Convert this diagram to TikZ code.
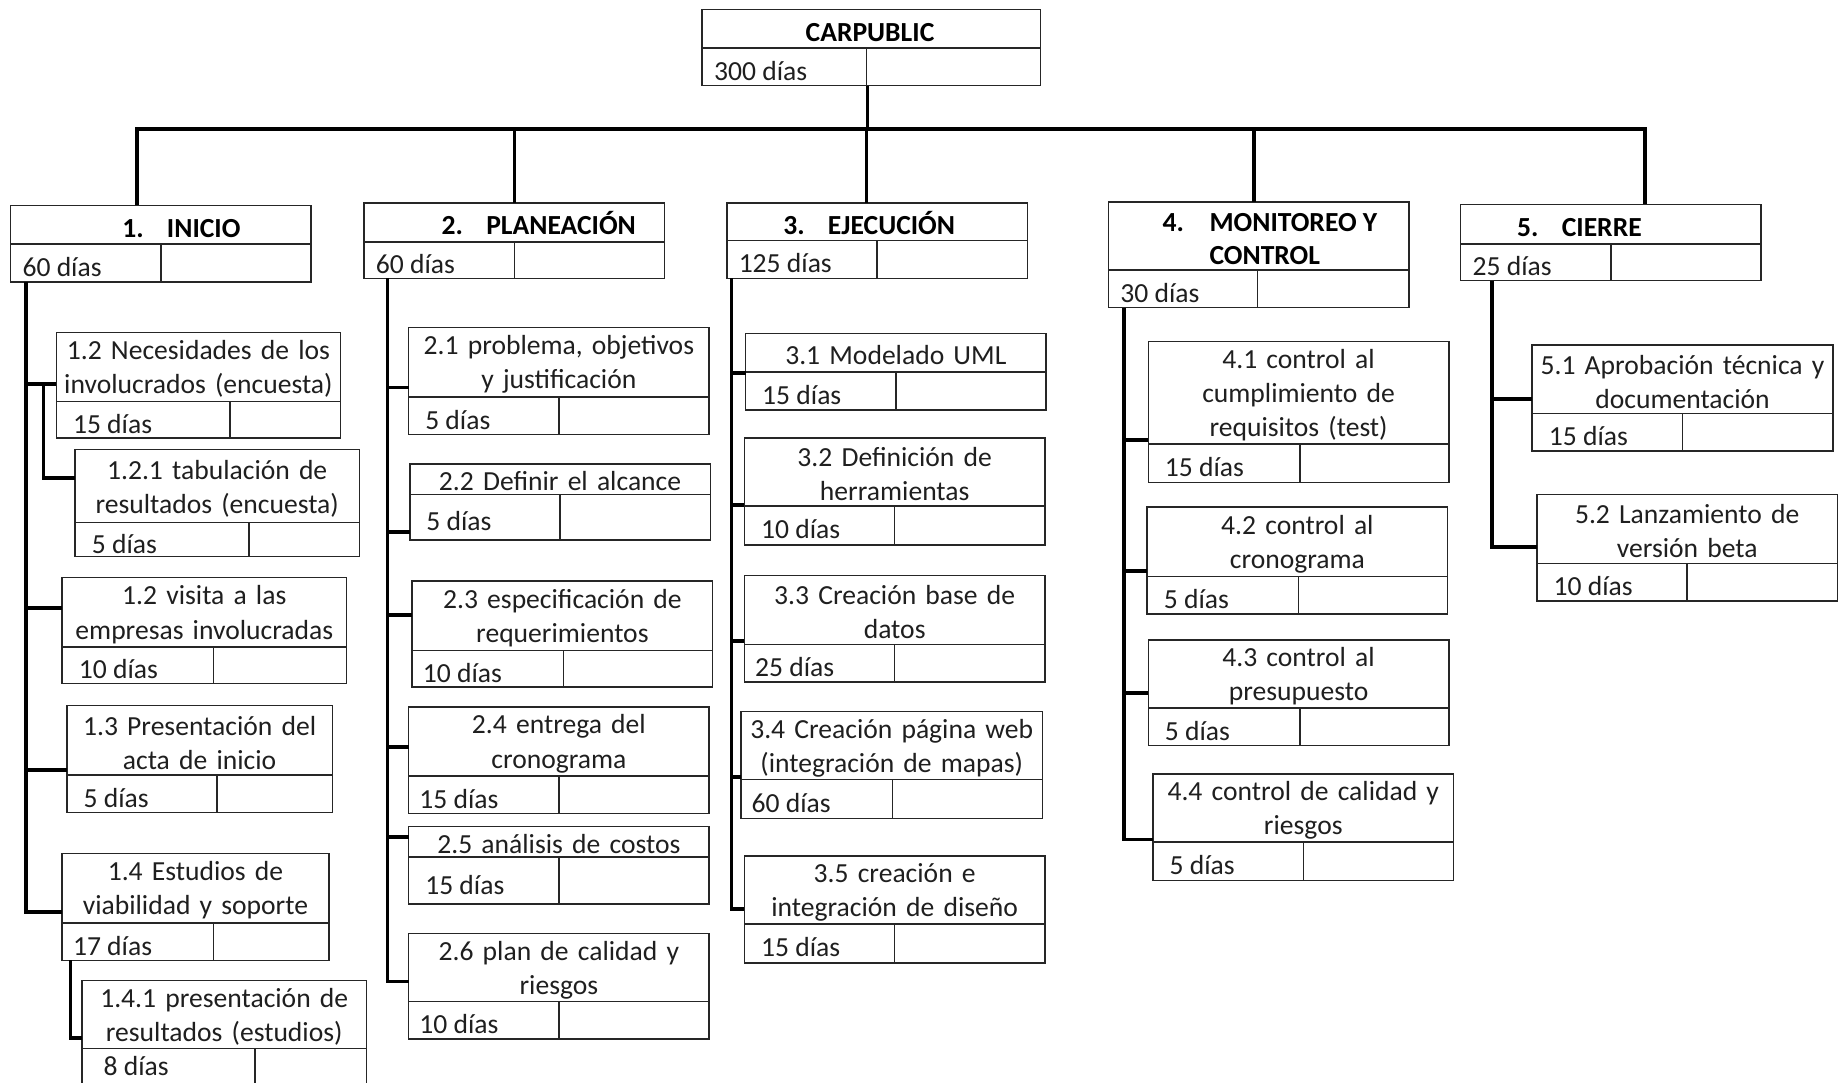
\documentclass[tikz,border=0pt]{standalone}
\usepackage{fontspec}
\setmainfont{Carlito}
\def\dx{10}
\newcommand\wbox[9]{%
  \pgfmathsetmacro\wbW{#4-#2}\pgfmathsetmacro\wbH{#6-#3}%
  \node[box,anchor=north west,minimum width=\wbW pt,minimum height=\wbH pt] (#1) at (#2,#3) {};
  \draw[cell] (#2,#5) -- (#4,#5) (#7,#5) -- (#7,#6);
  \node[title,text width=\wbW pt] (#1-t) at ({(#2+#4)/2},{(#3+#5)/2+2}) {#8};
  \node[days] (#1-d) at ({#2+\dx},{(#5+#6)/2+11.5}) {#9};
}
\newcommand\branch[3]{% spine coordinate, child node, offset from child top
  \path ([yshift=-#3 pt]#2.north west) coordinate (#2-in);
  \draw[conn] (#2-in -| #1) -- (#2-in);
}
\begin{document}
\begin{tikzpicture}[x=1pt,y=-1pt,
  box/.style={draw=black!85,line width=1.3pt,inner sep=0pt,outer sep=0pt,fill=white},
  cell/.style={draw=black!85,line width=1.3pt},
  conn/.style={draw=black,line width=3.2pt},
  drop/.style={draw=black,line width=2.8pt},
  title/.style={align=center,inner sep=0pt,font=\fontsize{23.5}{29}\selectfont,text=black!88},
  days/.style={anchor=base west,inner sep=0pt,font=\fontsize{23.5}{29}\selectfont,text=black!88},
  head/.style={anchor=base west,inner sep=0pt,font=\fontsize{23.5}{29}\selectfont\bfseries}]
\fill[white] (0,0) rectangle (1568,922);
\useasboundingbox (0,0) rectangle (1568,922);

% root
\wbox{root}{598}{8}{886}{41}{73}{738}{}{300 días}
\node[head,anchor=base] (root-h) at (741,35) {CARPUBLIC};

% level 1
\wbox{ini}{9}{175}{265}{208}{240}{137}{}{60 días}
\node[head] (ini-h) at (104,202) {\makebox[38pt][l]{1.}INICIO};
\wbox{pla}{310}{173}{566}{206}{237}{438}{}{60 días}
\node[head] (pla-h) at (376,200) {\makebox[38pt][l]{2.}PLANEACIÓN};
\wbox{eje}{619}{173}{875}{205}{237}{747}{}{125 días}
\node[head] (eje-h) at (667,200) {\makebox[38pt][l]{3.}EJECUCIÓN};
\wbox{mon}{944}{172}{1200}{230}{262}{1071}{}{30 días}
\node[head] (mon-h) at (990,197) {\makebox[40pt][l]{4.}MONITOREO Y};
\node[head] (mon-h2) at (1030,225) {CONTROL};
\wbox{cie}{1244}{174}{1500}{208}{239}{1372}{}{25 días}
\node[head] (cie-h) at (1292,201) {\makebox[38pt][l]{5.}CIERRE};

% column 1
\def\dx{14}
\wbox{n12}{48}{283}{290}{342}{373}{196}{1.2 Necesidades de los\\involucrados (encuesta)}{15 días}
\wbox{n121}{64}{383}{306}{445}{474}{212}{1.2.1 tabulación de\\resultados (encuesta)}{5 días}
\wbox{n12v}{53}{492}{295}{551}{582}{182}{1.2 visita a las\\empresas involucradas}{10 días}
\wbox{n13}{57}{601}{283}{660}{692}{185}{1.3 Presentación del\\acta de inicio}{5 días}
\def\dx{9}
\wbox{n14}{53}{727}{280}{786}{818}{182}{1.4 Estudios de\\viabilidad y soporte}{17 días}
\def\dx{18}
\wbox{n141}{70}{835}{312}{893}{925}{217}{1.4.1 presentación de\\resultados (estudios)}{}
\node[days] (n141-d) at (88,916) {8 días};

% column 2
\def\dx{14}
\wbox{n21}{348}{279}{604}{338}{370}{476}{2.1 problema, objetivos\\y justificación}{5 días}
\wbox{n22}{349}{395}{605}{421}{460}{477}{2.2 Definir el alcance}{5 días}
\def\dx{9}
\wbox{n23}{351}{495}{607}{554}{585}{480}{2.3 especificación de\\requerimientos}{10 días}
\wbox{n24}{348}{602}{604}{661}{693}{476}{2.4 entrega del\\cronograma}{15 días}
\def\dx{14}
\wbox{n25}{348}{704}{604}{730}{770}{476}{2.5 análisis de costos}{15 días}
\def\dx{9}
\wbox{n26}{348}{795}{604}{853}{885}{476}{2.6 plan de calidad y\\riesgos}{10 días}

% column 3
\def\dx{14}
\wbox{n31}{635}{284}{891}{317}{349}{763}{3.1 Modelado UML}{15 días}
\wbox{n32}{634}{373}{890}{431}{464}{762}{3.2 Definición de\\herramientas}{10 días}
\def\dx{9}
\wbox{n33}{634}{490}{890}{549}{581}{762}{3.3 Creación base de\\datos}{25 días}
\wbox{n34}{631}{606}{888}{664}{697}{760}{3.4 Creación página web\\(integración de mapas)}{60 días}
\def\dx{14}
\wbox{n35}{634}{729}{890}{787}{820}{762}{3.5 creación e\\integración de diseño}{15 días}

% column 4
\wbox{n41}{978}{291}{1234}{378}{411}{1107}{4.1 control al\\cumplimiento de\\requisitos (test)}{15 días}
\wbox{n42}{977}{432}{1233}{491}{523}{1106}{4.2 control al\\cronograma}{5 días}
\wbox{n43}{978}{545}{1234}{603}{635}{1107}{4.3 control al\\presupuesto}{5 días}
\wbox{n44}{982}{659}{1238}{717}{750}{1110}{4.4 control de calidad y\\riesgos}{5 días}

% column 5
\wbox{n51}{1305}{294}{1561}{352}{384}{1433}{5.1 Aprobación técnica y\\documentación}{15 días}
\wbox{n52}{1309}{421}{1565}{480}{512}{1437}{5.2 Lanzamiento de\\versión beta}{10 días}

% top connectors
\coordinate (bus) at (739,110);
\coordinate (d1) at (117,110);
\coordinate (d2) at (438,110);
\coordinate (d3) at (738,110);
\coordinate (d4) at (1068,110);
\coordinate (d5) at (1401,110);
\draw[drop] (root.south -| bus) -- (bus);
\draw[conn] (ini.north -| d1) -- (d1) -- (d5) -- (cie.north -| d5);
\draw[drop] (d2) -- (pla.north -| d2);
\draw[drop] (d3) -- (eje.north -| d3);
\draw[drop] (d4) -- (mon.north -| d4);

% spines
\coordinate (s1) at (22,0);
\coordinate (s12) at (37,0);
\coordinate (s14) at (60,0);
\coordinate (s2) at (330,0);
\coordinate (s3) at (623,0);
\coordinate (s4) at (957,0);
\coordinate (s5) at (1271,0);

% column 1 connectors
\branch{s1}{n12}{44}
\branch{s1}{n12v}{26}
\branch{s1}{n13}{55}
\path ([yshift=-50pt]n14.north west) coordinate (n14-in);
\draw[conn] (s1 |- ini.south) |- (n14-in);
\path ([yshift=-24pt]n121.north west) coordinate (n121-in);
\draw[conn] (n12-in -| s12) |- (n121-in);
\path ([yshift=-49pt]n141.north west) coordinate (n141-in);
\draw[conn] (n14.south -| s14) |- (n141-in);

% column 2 connectors
\branch{s2}{n21}{51}
\branch{s2}{n22}{58}
\branch{s2}{n23}{29}
\branch{s2}{n24}{34}
\branch{s2}{n25}{9}
\path ([yshift=-41pt]n26.north west) coordinate (n26-in);
\draw[conn] (s2 |- pla.south) |- (n26-in);

% column 3 connectors
\branch{s3}{n31}{34}
\branch{s3}{n32}{57}
\branch{s3}{n33}{56}
\branch{s3}{n34}{56}
\path ([yshift=-45pt]n35.north west) coordinate (n35-in);
\draw[conn] (s3 |- eje.south) |- (n35-in);

% column 4 connectors
\branch{s4}{n41}{84}
\branch{s4}{n42}{54}
\branch{s4}{n43}{45}
\path ([yshift=-56pt]n44.north west) coordinate (n44-in);
\draw[conn] (s4 |- mon.south) |- (n44-in);

% column 5 connectors
\branch{s5}{n51}{46}
\path ([yshift=-45pt]n52.north west) coordinate (n52-in);
\draw[conn] (s5 |- cie.south) |- (n52-in);
\end{tikzpicture}
\end{document}
